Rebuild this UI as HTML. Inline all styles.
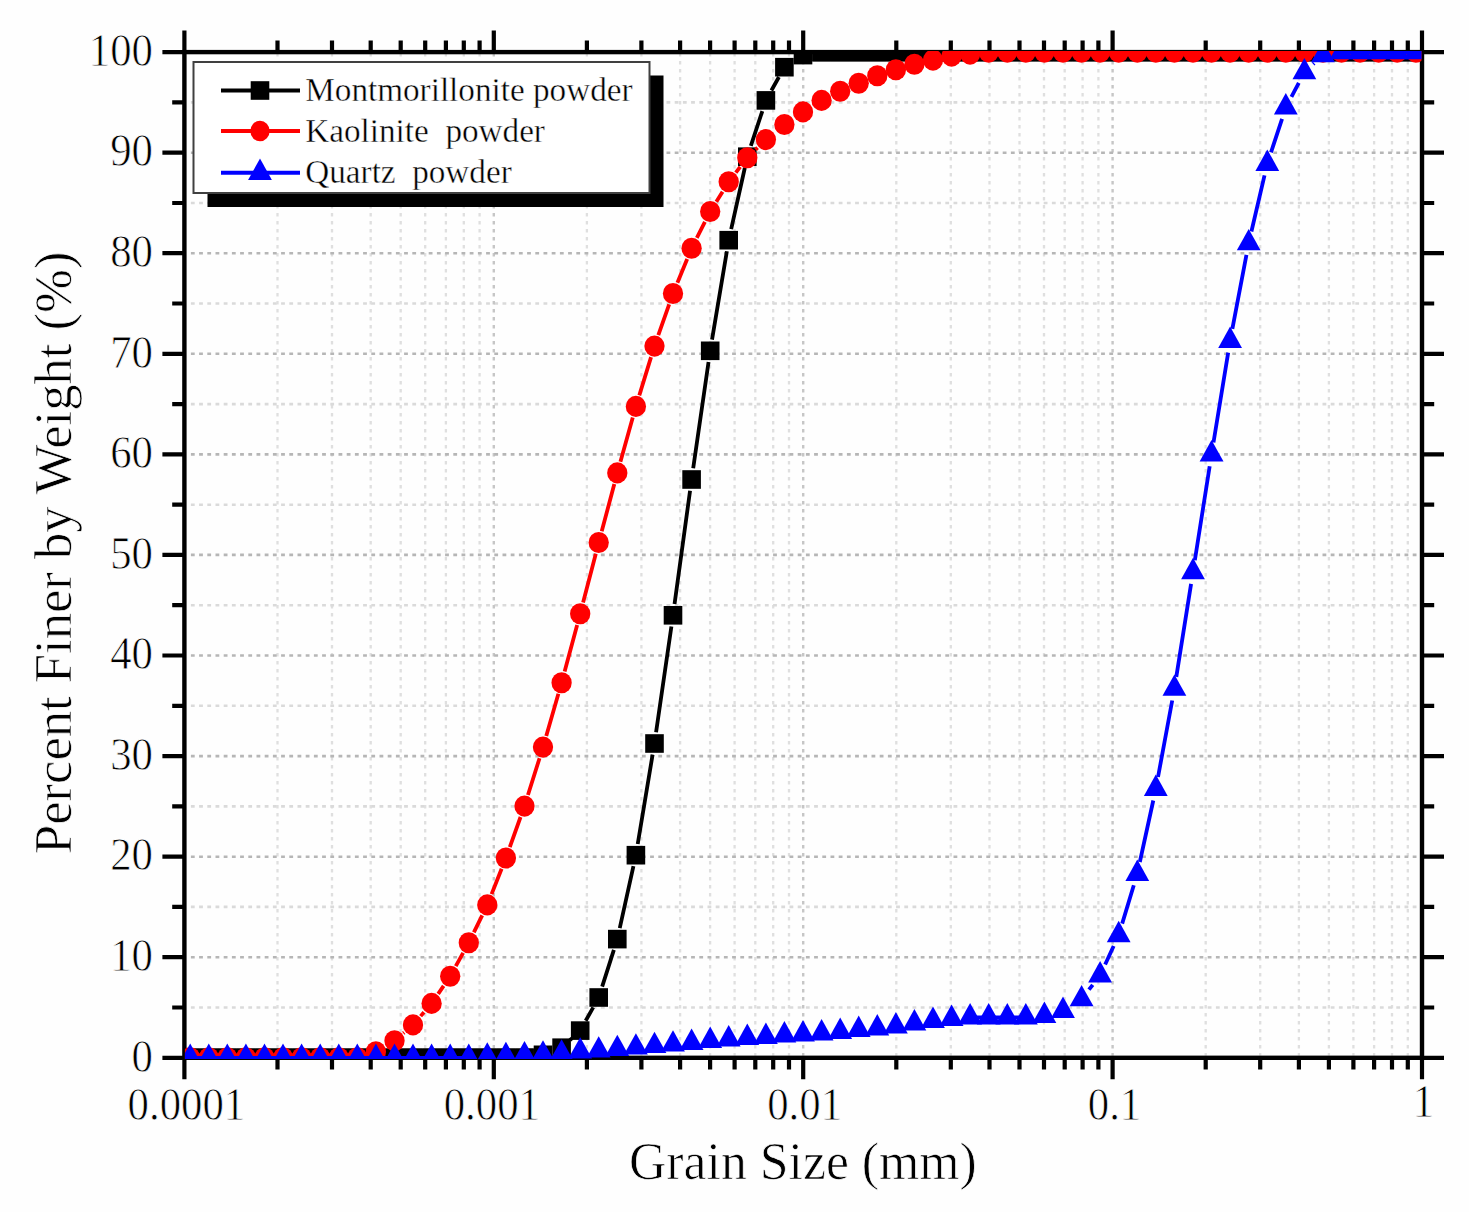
<!DOCTYPE html>
<html><head><meta charset="utf-8"><style>
html,body{margin:0;padding:0;background:#fefefe;}
svg{display:block;}
text{font-family:"Liberation Serif",serif;fill:#000;stroke:#fefefe;stroke-width:0.7px;paint-order:fill stroke;}
</style></head><body>
<svg width="1469" height="1212" viewBox="0 0 1469 1212">
<defs><clipPath id="pc"><rect x="184.9" y="51.1" width="1236.6" height="1007.8"/></clipPath></defs>

<path d="M277.5 52.9V1055.8M332.0 52.9V1055.8M370.7 52.9V1055.8M400.7 52.9V1055.8M425.2 52.9V1055.8M445.9 52.9V1055.8M463.8 52.9V1055.8M479.6 52.9V1055.8M586.9 52.9V1055.8M641.4 52.9V1055.8M680.1 52.9V1055.8M710.1 52.9V1055.8M734.6 52.9V1055.8M755.3 52.9V1055.8M773.2 52.9V1055.8M789.0 52.9V1055.8M896.3 52.9V1055.8M950.8 52.9V1055.8M989.5 52.9V1055.8M1019.5 52.9V1055.8M1044.0 52.9V1055.8M1064.7 52.9V1055.8M1082.6 52.9V1055.8M1098.4 52.9V1055.8M1205.7 52.9V1055.8M1260.2 52.9V1055.8M1298.9 52.9V1055.8M1328.9 52.9V1055.8M1353.4 52.9V1055.8M1374.1 52.9V1055.8M1392.0 52.9V1055.8M1407.8 52.9V1055.8" stroke="#dfdfdf" stroke-width="2.3" stroke-dasharray="3.6 4.4" fill="none"/>
<path d="M190.9 1007.5H1420.0M190.9 906.9H1420.0M190.9 806.4H1420.0M190.9 705.8H1420.0M190.9 605.2H1420.0M190.9 504.7H1420.0M190.9 404.1H1420.0M190.9 303.5H1420.0M190.9 203.0H1420.0M190.9 102.4H1420.0" stroke="#dadada" stroke-width="2.6" stroke-dasharray="3.8 4.4" fill="none"/>
<path d="M493.8 52.9V1055.8M803.2 52.9V1055.8M1112.6 52.9V1055.8" stroke="#c6c6c6" stroke-width="2.4" stroke-dasharray="3.6 4.4" fill="none"/>
<path d="M190.9 957.2H1420.0M190.9 856.7H1420.0M190.9 756.1H1420.0M190.9 655.5H1420.0M190.9 554.9H1420.0M190.9 454.4H1420.0M190.9 353.8H1420.0M190.9 253.2H1420.0M190.9 152.7H1420.0" stroke="#b6b6b6" stroke-width="2.6" stroke-dasharray="3.8 4.4" fill="none"/>
<path d="M162.4 1057.8H184.4M1422.0 1057.8H1444.0M172.2 1007.5H184.4M1422.0 1007.5H1434.2M162.4 957.2H184.4M1422.0 957.2H1444.0M172.2 906.9H184.4M1422.0 906.9H1434.2M162.4 856.7H184.4M1422.0 856.7H1444.0M172.2 806.4H184.4M1422.0 806.4H1434.2M162.4 756.1H184.4M1422.0 756.1H1444.0M172.2 705.8H184.4M1422.0 705.8H1434.2M162.4 655.5H184.4M1422.0 655.5H1444.0M172.2 605.2H184.4M1422.0 605.2H1434.2M162.4 554.9H184.4M1422.0 554.9H1444.0M172.2 504.7H184.4M1422.0 504.7H1434.2M162.4 454.4H184.4M1422.0 454.4H1444.0M172.2 404.1H184.4M1422.0 404.1H1434.2M162.4 353.8H184.4M1422.0 353.8H1444.0M172.2 303.5H184.4M1422.0 303.5H1434.2M162.4 253.2H184.4M1422.0 253.2H1444.0M172.2 203.0H184.4M1422.0 203.0H1434.2M162.4 152.7H184.4M1422.0 152.7H1444.0M172.2 102.4H184.4M1422.0 102.4H1434.2M162.4 52.1H184.4M1422.0 52.1H1444.0M184.4 30.6V52.1M184.4 1057.8V1079.3M277.5 40.5V52.1M277.5 1057.8V1069.4M332.0 40.5V52.1M332.0 1057.8V1069.4M370.7 40.5V52.1M370.7 1057.8V1069.4M400.7 40.5V52.1M400.7 1057.8V1069.4M425.2 40.5V52.1M425.2 1057.8V1069.4M445.9 40.5V52.1M445.9 1057.8V1069.4M463.8 40.5V52.1M463.8 1057.8V1069.4M479.6 40.5V52.1M479.6 1057.8V1069.4M493.8 30.6V52.1M493.8 1057.8V1079.3M586.9 40.5V52.1M586.9 1057.8V1069.4M641.4 40.5V52.1M641.4 1057.8V1069.4M680.1 40.5V52.1M680.1 1057.8V1069.4M710.1 40.5V52.1M710.1 1057.8V1069.4M734.6 40.5V52.1M734.6 1057.8V1069.4M755.3 40.5V52.1M755.3 1057.8V1069.4M773.2 40.5V52.1M773.2 1057.8V1069.4M789.0 40.5V52.1M789.0 1057.8V1069.4M803.2 30.6V52.1M803.2 1057.8V1079.3M896.3 40.5V52.1M896.3 1057.8V1069.4M950.8 40.5V52.1M950.8 1057.8V1069.4M989.5 40.5V52.1M989.5 1057.8V1069.4M1019.5 40.5V52.1M1019.5 1057.8V1069.4M1044.0 40.5V52.1M1044.0 1057.8V1069.4M1064.7 40.5V52.1M1064.7 1057.8V1069.4M1082.6 40.5V52.1M1082.6 1057.8V1069.4M1098.4 40.5V52.1M1098.4 1057.8V1069.4M1112.6 30.6V52.1M1112.6 1057.8V1079.3M1205.7 40.5V52.1M1205.7 1057.8V1069.4M1260.2 40.5V52.1M1260.2 1057.8V1069.4M1298.9 40.5V52.1M1298.9 1057.8V1069.4M1328.9 40.5V52.1M1328.9 1057.8V1069.4M1353.4 40.5V52.1M1353.4 1057.8V1069.4M1374.1 40.5V52.1M1374.1 1057.8V1069.4M1392.0 40.5V52.1M1392.0 1057.8V1069.4M1407.8 40.5V52.1M1407.8 1057.8V1069.4M1422.0 30.6V52.1M1422.0 1057.8V1079.3" stroke="#000" stroke-width="4.2" fill="none"/>
<rect x="184.4" y="52.1" width="1237.6" height="1005.7" fill="none" stroke="#000" stroke-width="4.4"/>
<g clip-path="url(#pc)">
<path d="M190.2 1057.8L208.8 1057.8M208.8 1057.8L227.3 1057.8M227.3 1057.8L245.9 1057.8M245.9 1057.8L264.5 1057.8M264.5 1057.8L283.0 1057.8M283.0 1057.8L301.6 1057.8M301.6 1057.8L320.2 1057.8M320.2 1057.8L338.8 1057.8M338.8 1057.8L357.3 1057.8M357.3 1057.8L375.9 1057.8M375.9 1057.8L394.5 1057.8M394.5 1057.8L413.0 1057.8M413.0 1057.8L431.6 1057.8M431.6 1057.8L450.2 1057.8M450.2 1057.8L468.8 1057.8M468.8 1057.8L487.3 1057.8M487.3 1057.8L505.9 1057.8M505.9 1057.8L524.5 1057.8M569.91 1040.09L571.86 1038.30M585.69 1020.78L593.22 1007.32M602.17 986.69L613.88 949.89M619.75 928.09L633.44 866.18M637.73 844.00L652.60 754.67M656.07 732.34L671.40 626.48M674.55 604.10L690.06 490.72M693.20 468.34L708.55 361.98M712.03 339.65L726.86 251.31M731.18 229.14L744.85 167.72M750.84 145.96L762.33 111.11M771.39 90.51L778.92 77.05M821.6 52.1L840.2 52.1M840.2 52.1L858.7 52.1M858.7 52.1L877.3 52.1M877.3 52.1L895.9 52.1M895.9 52.1L914.4 52.1M914.4 52.1L933.0 52.1M933.0 52.1L951.6 52.1M951.6 52.1L970.1 52.1M970.1 52.1L988.7 52.1M988.7 52.1L1007.3 52.1M1007.3 52.1L1025.8 52.1M1025.8 52.1L1044.4 52.1M1044.4 52.1L1063.0 52.1M1063.0 52.1L1081.6 52.1M1081.6 52.1L1100.1 52.1M1100.1 52.1L1118.7 52.1M1118.7 52.1L1137.3 52.1M1137.3 52.1L1155.8 52.1M1155.8 52.1L1174.4 52.1M1174.4 52.1L1193.0 52.1M1193.0 52.1L1211.5 52.1M1211.5 52.1L1230.1 52.1M1230.1 52.1L1248.7 52.1M1248.7 52.1L1267.3 52.1M1267.3 52.1L1285.8 52.1M1285.8 52.1L1304.4 52.1M1304.4 52.1L1323.0 52.1M1323.0 52.1L1341.5 52.1M1341.5 52.1L1360.1 52.1M1360.1 52.1L1378.7 52.1M1378.7 52.1L1397.2 52.1M1397.2 52.1L1415.8 52.1" stroke="#000" stroke-width="3.8" fill="none"/>
<g fill="#000"><rect x="180.9" y="1048.5" width="18.6" height="18.6"/><rect x="199.5" y="1048.5" width="18.6" height="18.6"/><rect x="218.0" y="1048.5" width="18.6" height="18.6"/><rect x="236.6" y="1048.5" width="18.6" height="18.6"/><rect x="255.2" y="1048.5" width="18.6" height="18.6"/><rect x="273.7" y="1048.5" width="18.6" height="18.6"/><rect x="292.3" y="1048.5" width="18.6" height="18.6"/><rect x="310.9" y="1048.5" width="18.6" height="18.6"/><rect x="329.5" y="1048.5" width="18.6" height="18.6"/><rect x="348.0" y="1048.5" width="18.6" height="18.6"/><rect x="366.6" y="1048.5" width="18.6" height="18.6"/><rect x="385.2" y="1048.5" width="18.6" height="18.6"/><rect x="403.7" y="1048.5" width="18.6" height="18.6"/><rect x="422.3" y="1048.5" width="18.6" height="18.6"/><rect x="440.9" y="1048.5" width="18.6" height="18.6"/><rect x="459.4" y="1048.5" width="18.6" height="18.6"/><rect x="478.0" y="1048.5" width="18.6" height="18.6"/><rect x="496.6" y="1048.5" width="18.6" height="18.6"/><rect x="515.2" y="1048.5" width="18.6" height="18.6"/><rect x="533.7" y="1045.5" width="18.6" height="18.6"/><rect x="552.3" y="1038.4" width="18.6" height="18.6"/><rect x="570.9" y="1021.3" width="18.6" height="18.6"/><rect x="589.4" y="988.2" width="18.6" height="18.6"/><rect x="608.0" y="929.8" width="18.6" height="18.6"/><rect x="626.6" y="845.9" width="18.6" height="18.6"/><rect x="645.2" y="734.2" width="18.6" height="18.6"/><rect x="663.7" y="606.0" width="18.6" height="18.6"/><rect x="682.3" y="470.2" width="18.6" height="18.6"/><rect x="700.9" y="341.5" width="18.6" height="18.6"/><rect x="719.4" y="230.9" width="18.6" height="18.6"/><rect x="738.0" y="147.4" width="18.6" height="18.6"/><rect x="756.6" y="91.1" width="18.6" height="18.6"/><rect x="775.1" y="57.9" width="18.6" height="18.6"/><rect x="793.7" y="45.8" width="18.6" height="18.6"/><rect x="812.3" y="42.8" width="18.6" height="18.6"/><rect x="830.9" y="42.8" width="18.6" height="18.6"/><rect x="849.4" y="42.8" width="18.6" height="18.6"/><rect x="868.0" y="42.8" width="18.6" height="18.6"/><rect x="886.6" y="42.8" width="18.6" height="18.6"/><rect x="905.1" y="42.8" width="18.6" height="18.6"/><rect x="923.7" y="42.8" width="18.6" height="18.6"/><rect x="942.3" y="42.8" width="18.6" height="18.6"/><rect x="960.8" y="42.8" width="18.6" height="18.6"/><rect x="979.4" y="42.8" width="18.6" height="18.6"/><rect x="998.0" y="42.8" width="18.6" height="18.6"/><rect x="1016.5" y="42.8" width="18.6" height="18.6"/><rect x="1035.1" y="42.8" width="18.6" height="18.6"/><rect x="1053.7" y="42.8" width="18.6" height="18.6"/><rect x="1072.3" y="42.8" width="18.6" height="18.6"/><rect x="1090.8" y="42.8" width="18.6" height="18.6"/><rect x="1109.4" y="42.8" width="18.6" height="18.6"/><rect x="1128.0" y="42.8" width="18.6" height="18.6"/><rect x="1146.5" y="42.8" width="18.6" height="18.6"/><rect x="1165.1" y="42.8" width="18.6" height="18.6"/><rect x="1183.7" y="42.8" width="18.6" height="18.6"/><rect x="1202.2" y="42.8" width="18.6" height="18.6"/><rect x="1220.8" y="42.8" width="18.6" height="18.6"/><rect x="1239.4" y="42.8" width="18.6" height="18.6"/><rect x="1258.0" y="42.8" width="18.6" height="18.6"/><rect x="1276.5" y="42.8" width="18.6" height="18.6"/><rect x="1295.1" y="42.8" width="18.6" height="18.6"/><rect x="1313.7" y="42.8" width="18.6" height="18.6"/><rect x="1332.2" y="42.8" width="18.6" height="18.6"/><rect x="1350.8" y="42.8" width="18.6" height="18.6"/><rect x="1369.4" y="42.8" width="18.6" height="18.6"/><rect x="1388.0" y="42.8" width="18.6" height="18.6"/><rect x="1406.5" y="42.8" width="18.6" height="18.6"/><rect x="180.9" y="1048.5" width="352.9" height="18.6"/><rect x="812.3" y="42.8" width="612.8" height="18.6"/></g>
<path d="M190.2 1057.8L208.8 1057.8M208.8 1057.8L227.3 1057.8M227.3 1057.8L245.9 1057.8M245.9 1057.8L264.5 1057.8M264.5 1057.8L283.0 1057.8M283.0 1057.8L301.6 1057.8M301.6 1057.8L320.2 1057.8M320.2 1057.8L338.8 1057.8M338.8 1057.8L357.3 1057.8M403.31 1033.19L404.20 1032.43M420.62 1016.13L424.03 1012.17M438.17 993.83L443.62 985.90M455.79 966.19L463.14 952.90M473.86 932.34L482.21 915.35M491.59 894.15L501.62 868.75M509.80 847.05L520.55 817.00M527.95 795.01L539.54 758.20M546.24 735.99L558.39 693.82M564.62 671.47L577.15 624.98M583.09 602.56L595.82 553.70M601.73 531.27L614.32 484.09M620.43 461.71L632.76 417.58M639.29 395.32L651.04 357.15M658.31 335.13L669.16 304.41M677.42 282.74L687.19 258.94M696.83 237.86L704.92 221.85M716.31 201.67L722.58 191.67M735.80 172.64L740.23 166.89M755.61 149.60L757.56 147.69M988.7 52.1L1007.3 52.1M1007.3 52.1L1025.8 52.1M1025.8 52.1L1044.4 52.1M1044.4 52.1L1063.0 52.1M1063.0 52.1L1081.6 52.1M1081.6 52.1L1100.1 52.1M1100.1 52.1L1118.7 52.1M1118.7 52.1L1137.3 52.1M1137.3 52.1L1155.8 52.1M1155.8 52.1L1174.4 52.1M1174.4 52.1L1193.0 52.1M1193.0 52.1L1211.5 52.1M1211.5 52.1L1230.1 52.1M1230.1 52.1L1248.7 52.1M1248.7 52.1L1267.3 52.1M1267.3 52.1L1285.8 52.1M1285.8 52.1L1304.4 52.1M1304.4 52.1L1323.0 52.1M1323.0 52.1L1341.5 52.1M1341.5 52.1L1360.1 52.1M1360.1 52.1L1378.7 52.1M1378.7 52.1L1397.2 52.1M1397.2 52.1L1415.8 52.1" stroke="#ff0000" stroke-width="3.8" fill="none"/>
<g fill="#ff0000"><ellipse cx="190.2" cy="1057.8" rx="10.15" ry="10.55"/><ellipse cx="208.8" cy="1057.8" rx="10.15" ry="10.55"/><ellipse cx="227.3" cy="1057.8" rx="10.15" ry="10.55"/><ellipse cx="245.9" cy="1057.8" rx="10.15" ry="10.55"/><ellipse cx="264.5" cy="1057.8" rx="10.15" ry="10.55"/><ellipse cx="283.0" cy="1057.8" rx="10.15" ry="10.55"/><ellipse cx="301.6" cy="1057.8" rx="10.15" ry="10.55"/><ellipse cx="320.2" cy="1057.8" rx="10.15" ry="10.55"/><ellipse cx="338.8" cy="1057.8" rx="10.15" ry="10.55"/><ellipse cx="357.3" cy="1057.8" rx="10.15" ry="10.55"/><ellipse cx="375.9" cy="1051.8" rx="10.15" ry="10.55"/><ellipse cx="394.5" cy="1040.7" rx="10.15" ry="10.55"/><ellipse cx="413.0" cy="1024.9" rx="10.15" ry="10.55"/><ellipse cx="431.6" cy="1003.4" rx="10.15" ry="10.55"/><ellipse cx="450.2" cy="976.3" rx="10.15" ry="10.55"/><ellipse cx="468.8" cy="942.7" rx="10.15" ry="10.55"/><ellipse cx="487.3" cy="904.9" rx="10.15" ry="10.55"/><ellipse cx="505.9" cy="858.0" rx="10.15" ry="10.55"/><ellipse cx="524.5" cy="806.1" rx="10.15" ry="10.55"/><ellipse cx="543.0" cy="747.1" rx="10.15" ry="10.55"/><ellipse cx="561.6" cy="682.7" rx="10.15" ry="10.55"/><ellipse cx="580.2" cy="613.8" rx="10.15" ry="10.55"/><ellipse cx="598.7" cy="542.5" rx="10.15" ry="10.55"/><ellipse cx="617.3" cy="472.9" rx="10.15" ry="10.55"/><ellipse cx="635.9" cy="406.4" rx="10.15" ry="10.55"/><ellipse cx="654.5" cy="346.1" rx="10.15" ry="10.55"/><ellipse cx="673.0" cy="293.5" rx="10.15" ry="10.55"/><ellipse cx="691.6" cy="248.2" rx="10.15" ry="10.55"/><ellipse cx="710.2" cy="211.5" rx="10.15" ry="10.55"/><ellipse cx="728.7" cy="181.8" rx="10.15" ry="10.55"/><ellipse cx="747.3" cy="157.7" rx="10.15" ry="10.55"/><ellipse cx="765.9" cy="139.6" rx="10.15" ry="10.55"/><ellipse cx="784.4" cy="124.5" rx="10.15" ry="10.55"/><ellipse cx="803.0" cy="111.9" rx="10.15" ry="10.55"/><ellipse cx="821.6" cy="100.4" rx="10.15" ry="10.55"/><ellipse cx="840.2" cy="91.3" rx="10.15" ry="10.55"/><ellipse cx="858.7" cy="83.3" rx="10.15" ry="10.55"/><ellipse cx="877.3" cy="75.7" rx="10.15" ry="10.55"/><ellipse cx="895.9" cy="69.7" rx="10.15" ry="10.55"/><ellipse cx="914.4" cy="64.2" rx="10.15" ry="10.55"/><ellipse cx="933.0" cy="60.1" rx="10.15" ry="10.55"/><ellipse cx="951.6" cy="56.1" rx="10.15" ry="10.55"/><ellipse cx="970.1" cy="54.1" rx="10.15" ry="10.55"/><ellipse cx="988.7" cy="52.1" rx="10.15" ry="10.55"/><ellipse cx="1007.3" cy="52.1" rx="10.15" ry="10.55"/><ellipse cx="1025.8" cy="52.1" rx="10.15" ry="10.55"/><ellipse cx="1044.4" cy="52.1" rx="10.15" ry="10.55"/><ellipse cx="1063.0" cy="52.1" rx="10.15" ry="10.55"/><ellipse cx="1081.6" cy="52.1" rx="10.15" ry="10.55"/><ellipse cx="1100.1" cy="52.1" rx="10.15" ry="10.55"/><ellipse cx="1118.7" cy="52.1" rx="10.15" ry="10.55"/><ellipse cx="1137.3" cy="52.1" rx="10.15" ry="10.55"/><ellipse cx="1155.8" cy="52.1" rx="10.15" ry="10.55"/><ellipse cx="1174.4" cy="52.1" rx="10.15" ry="10.55"/><ellipse cx="1193.0" cy="52.1" rx="10.15" ry="10.55"/><ellipse cx="1211.5" cy="52.1" rx="10.15" ry="10.55"/><ellipse cx="1230.1" cy="52.1" rx="10.15" ry="10.55"/><ellipse cx="1248.7" cy="52.1" rx="10.15" ry="10.55"/><ellipse cx="1267.3" cy="52.1" rx="10.15" ry="10.55"/><ellipse cx="1285.8" cy="52.1" rx="10.15" ry="10.55"/><ellipse cx="1304.4" cy="52.1" rx="10.15" ry="10.55"/><ellipse cx="1323.0" cy="52.1" rx="10.15" ry="10.55"/><ellipse cx="1341.5" cy="52.1" rx="10.15" ry="10.55"/><ellipse cx="1360.1" cy="52.1" rx="10.15" ry="10.55"/><ellipse cx="1378.7" cy="52.1" rx="10.15" ry="10.55"/><ellipse cx="1397.2" cy="52.1" rx="10.15" ry="10.55"/><ellipse cx="1415.8" cy="52.1" rx="10.15" ry="10.55"/></g>
<path d="M190.2 1057.8L208.8 1057.8M208.8 1057.8L227.3 1057.8M227.3 1057.8L245.9 1057.8M245.9 1057.8L264.5 1057.8M264.5 1057.8L283.0 1057.8M283.0 1057.8L301.6 1057.8M301.6 1057.8L320.2 1057.8M320.2 1057.8L338.8 1057.8M338.8 1057.8L357.3 1057.8M357.3 1057.8L375.9 1057.8M375.9 1057.8L394.5 1057.8M394.5 1057.8L413.0 1057.8M413.0 1057.8L431.6 1057.8M431.6 1057.8L450.2 1057.8M450.2 1057.8L468.8 1057.8M970.1 1017.3L988.7 1017.3M988.7 1017.3L1007.3 1017.3M1007.3 1017.3L1025.8 1017.3M1088.94 989.70L1092.75 984.80M1105.16 964.44L1113.67 946.00M1122.18 923.62L1133.79 885.24M1139.83 862.03L1153.28 800.50M1158.03 776.98L1172.22 700.51M1176.30 676.86L1191.09 583.90M1194.85 560.19L1209.68 466.23M1213.49 442.54L1228.18 352.58M1232.36 328.95L1246.45 254.97M1251.42 231.50L1264.53 175.42M1271.02 152.34L1282.07 118.81M1291.43 96.80L1298.80 82.83M1313.23 64.09L1314.14 63.24M1341.5 52.1L1360.1 52.1M1360.1 52.1L1378.7 52.1M1378.7 52.1L1397.2 52.1M1397.2 52.1L1415.8 52.1" stroke="#0000ff" stroke-width="3.8" fill="none"/>
<g fill="#0000ff"><path d="M190.2 1043.5L202.1 1064.9L178.3 1064.9Z"/><path d="M208.8 1043.5L220.7 1064.9L196.9 1064.9Z"/><path d="M227.3 1043.5L239.2 1064.9L215.4 1064.9Z"/><path d="M245.9 1043.5L257.8 1064.9L234.0 1064.9Z"/><path d="M264.5 1043.5L276.4 1064.9L252.6 1064.9Z"/><path d="M283.0 1043.5L294.9 1064.9L271.1 1064.9Z"/><path d="M301.6 1043.5L313.5 1064.9L289.7 1064.9Z"/><path d="M320.2 1043.5L332.1 1064.9L308.3 1064.9Z"/><path d="M338.8 1043.5L350.7 1064.9L326.9 1064.9Z"/><path d="M357.3 1043.5L369.2 1064.9L345.4 1064.9Z"/><path d="M375.9 1043.5L387.8 1064.9L364.0 1064.9Z"/><path d="M394.5 1043.5L406.4 1064.9L382.6 1064.9Z"/><path d="M413.0 1043.5L424.9 1064.9L401.1 1064.9Z"/><path d="M431.6 1043.5L443.5 1064.9L419.7 1064.9Z"/><path d="M450.2 1043.5L462.1 1064.9L438.3 1064.9Z"/><path d="M468.8 1043.5L480.6 1064.9L456.9 1064.9Z"/><path d="M487.3 1042.2L499.2 1063.6L475.4 1063.6Z"/><path d="M505.9 1041.7L517.8 1063.1L494.0 1063.1Z"/><path d="M524.5 1040.9L536.4 1062.3L512.6 1062.3Z"/><path d="M543.0 1040.2L554.9 1061.6L531.1 1061.6Z"/><path d="M561.6 1039.2L573.5 1060.6L549.7 1060.6Z"/><path d="M580.2 1037.2L592.1 1058.6L568.3 1058.6Z"/><path d="M598.7 1036.2L610.6 1057.6L586.8 1057.6Z"/><path d="M617.3 1034.7L629.2 1056.1L605.4 1056.1Z"/><path d="M635.9 1033.2L647.8 1054.6L624.0 1054.6Z"/><path d="M654.5 1031.7L666.4 1053.1L642.6 1053.1Z"/><path d="M673.0 1030.2L684.9 1051.6L661.1 1051.6Z"/><path d="M691.6 1028.6L703.5 1050.0L679.7 1050.0Z"/><path d="M710.2 1026.6L722.1 1048.0L698.3 1048.0Z"/><path d="M728.7 1025.1L740.6 1046.5L716.8 1046.5Z"/><path d="M747.3 1023.6L759.2 1045.0L735.4 1045.0Z"/><path d="M765.9 1022.6L777.8 1044.0L754.0 1044.0Z"/><path d="M784.4 1021.1L796.3 1042.5L772.5 1042.5Z"/><path d="M803.0 1020.1L814.9 1041.5L791.1 1041.5Z"/><path d="M821.6 1019.1L833.5 1040.5L809.7 1040.5Z"/><path d="M840.2 1017.6L852.1 1039.0L828.3 1039.0Z"/><path d="M858.7 1015.6L870.6 1037.0L846.8 1037.0Z"/><path d="M877.3 1014.1L889.2 1035.5L865.4 1035.5Z"/><path d="M895.9 1012.1L907.8 1033.5L884.0 1033.5Z"/><path d="M914.4 1009.0L926.3 1030.4L902.5 1030.4Z"/><path d="M933.0 1006.5L944.9 1027.9L921.1 1027.9Z"/><path d="M951.6 1004.5L963.5 1025.9L939.7 1025.9Z"/><path d="M970.1 1003.0L982.0 1024.4L958.2 1024.4Z"/><path d="M988.7 1003.0L1000.6 1024.4L976.8 1024.4Z"/><path d="M1007.3 1003.0L1019.2 1024.4L995.4 1024.4Z"/><path d="M1025.8 1003.0L1037.8 1024.4L1013.9 1024.4Z"/><path d="M1044.4 1001.5L1056.3 1022.9L1032.5 1022.9Z"/><path d="M1063.0 996.5L1074.9 1017.9L1051.1 1017.9Z"/><path d="M1081.6 984.9L1093.5 1006.3L1069.7 1006.3Z"/><path d="M1100.1 961.1L1112.0 982.5L1088.2 982.5Z"/><path d="M1118.7 920.8L1130.6 942.2L1106.8 942.2Z"/><path d="M1137.3 859.5L1149.2 880.9L1125.4 880.9Z"/><path d="M1155.8 774.5L1167.7 795.9L1143.9 795.9Z"/><path d="M1174.4 674.4L1186.3 695.8L1162.5 695.8Z"/><path d="M1193.0 557.8L1204.9 579.2L1181.1 579.2Z"/><path d="M1211.5 440.1L1223.5 461.5L1199.6 461.5Z"/><path d="M1230.1 326.5L1242.0 347.9L1218.2 347.9Z"/><path d="M1248.7 228.9L1260.6 250.3L1236.8 250.3Z"/><path d="M1267.3 149.5L1279.2 170.9L1255.4 170.9Z"/><path d="M1285.8 93.1L1297.7 114.5L1273.9 114.5Z"/><path d="M1304.4 57.9L1316.3 79.3L1292.5 79.3Z"/><path d="M1323.0 40.9L1334.9 62.3L1311.1 62.3Z"/><path d="M1341.5 37.8L1353.4 59.2L1329.6 59.2Z"/><path d="M1360.1 37.8L1372.0 59.2L1348.2 59.2Z"/><path d="M1378.7 37.8L1390.6 59.2L1366.8 59.2Z"/><path d="M1397.2 37.8L1409.2 59.2L1385.3 59.2Z"/><path d="M1415.8 37.8L1427.7 59.2L1403.9 59.2Z"/></g>
</g>
<text x="153" y="0" font-size="42.8" text-anchor="end" transform="translate(0 1071.5) scale(1 1.094)">0</text>
<text x="153" y="0" font-size="42.8" text-anchor="end" transform="translate(0 970.9) scale(1 1.094)">10</text>
<text x="153" y="0" font-size="42.8" text-anchor="end" transform="translate(0 870.3) scale(1 1.094)">20</text>
<text x="153" y="0" font-size="42.8" text-anchor="end" transform="translate(0 769.8) scale(1 1.094)">30</text>
<text x="153" y="0" font-size="42.8" text-anchor="end" transform="translate(0 669.2) scale(1 1.094)">40</text>
<text x="153" y="0" font-size="42.8" text-anchor="end" transform="translate(0 568.6) scale(1 1.094)">50</text>
<text x="153" y="0" font-size="42.8" text-anchor="end" transform="translate(0 468.1) scale(1 1.094)">60</text>
<text x="153" y="0" font-size="42.8" text-anchor="end" transform="translate(0 367.5) scale(1 1.094)">70</text>
<text x="153" y="0" font-size="42.8" text-anchor="end" transform="translate(0 266.9) scale(1 1.094)">80</text>
<text x="153" y="0" font-size="42.8" text-anchor="end" transform="translate(0 166.4) scale(1 1.094)">90</text>
<text x="153" y="0" font-size="42.8" text-anchor="end" transform="translate(0 65.8) scale(1 1.094)">100</text>
<text x="186.4" y="0" font-size="42.8" text-anchor="middle" transform="translate(0 1119.6) scale(1 1.094)">0.0001</text>
<text x="491.8" y="0" font-size="42.8" text-anchor="middle" transform="translate(0 1119.6) scale(1 1.094)">0.001</text>
<text x="804.6" y="0" font-size="42.8" text-anchor="middle" transform="translate(0 1119.6) scale(1 1.094)">0.01</text>
<text x="1114.5" y="0" font-size="42.8" text-anchor="middle" transform="translate(0 1119.9) scale(1 1.094)">0.1</text>
<text x="1423.4" y="0" font-size="42.8" text-anchor="middle" transform="translate(0 1117.0) scale(1 1.094)">1</text>
<text x="802.9" y="0" font-size="51.75" text-anchor="middle" transform="translate(0 1179.3)">Grain Size (mm)</text>
<text x="0" y="0" font-size="52.6" text-anchor="middle" transform="translate(71.2 552.8) rotate(-90)">Percent Finer by Weight (%)</text>
<rect x="207.5" y="75.5" width="456" height="131.5" fill="#000"/>
<rect x="193.5" y="62" width="456" height="131" fill="#fff" stroke="#404040" stroke-width="2"/>
<path d="M221 90.5H300" stroke="#000" stroke-width="4"/>
<rect x="250.7" y="81.2" width="18.6" height="18.6" fill="#000"/>
<path d="M221 131H300" stroke="#f00" stroke-width="4"/>
<ellipse cx="260" cy="131" rx="9.65" ry="10.35" fill="#f00"/>
<path d="M221 172.8H300" stroke="#00f" stroke-width="4"/>
<path d="M260 158.5L271.9 179.9L248.1 179.9Z" fill="#00f"/>
<text x="305.3" y="100.8" font-size="33.2" style="stroke-width:0.4px">Montmorillonite powder</text>
<text x="305.3" y="141.6" font-size="33.2" style="stroke-width:0.4px">Kaolinite&#160; powder</text>
<text x="305.3" y="183.2" font-size="33.2" style="stroke-width:0.4px">Quartz&#160; powder</text>
</svg></body></html>
